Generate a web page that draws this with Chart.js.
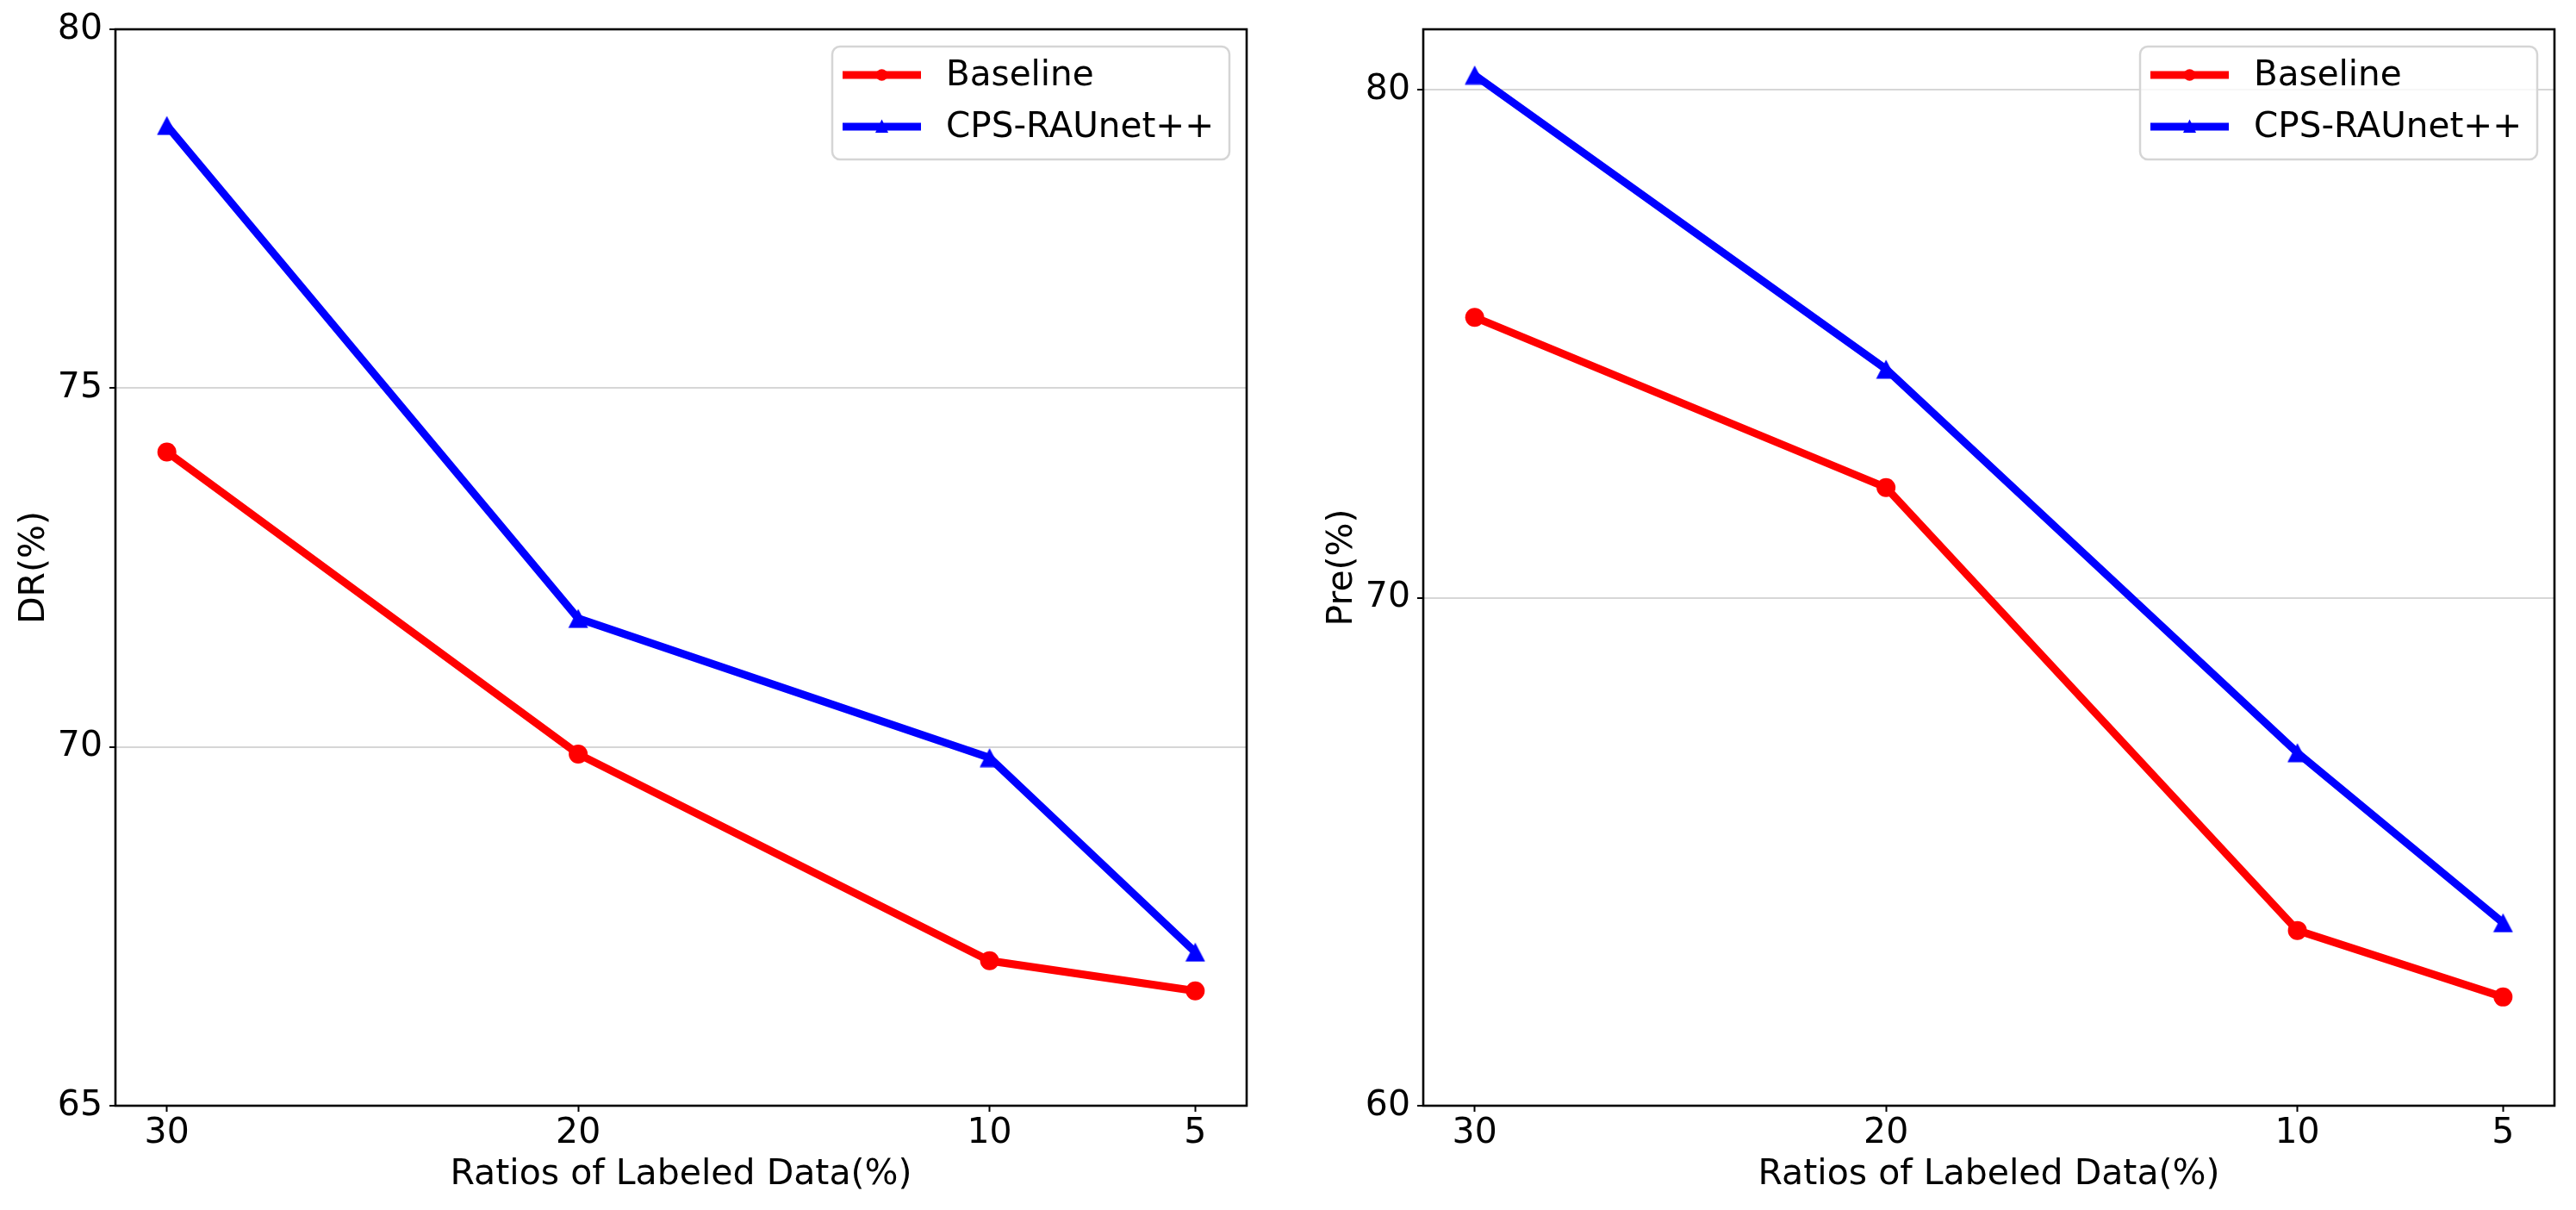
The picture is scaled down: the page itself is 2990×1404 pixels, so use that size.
<!DOCTYPE html>
<html>
<head>
<meta charset="utf-8">
<script src="https://cdn.jsdelivr.net/npm/chart.js@4.4.1/dist/chart.umd.min.js"></script>
<style>
  html, body { margin: 0; padding: 0; background: #fff; }
  body { width: 2990px; height: 1404px; position: relative; overflow: hidden; }
  .panel { position: absolute; top: 0; height: 1404px; }
  #p1 { left: 0; width: 1495px; }
  #p2 { left: 1518px; width: 1472px; }
</style>
</head>
<body>
<div class="panel" id="p1"><canvas id="c1"></canvas></div>
<div class="panel" id="p2"><canvas id="c2"></canvas></div>
<script>
// ---- data ----
const ratios = [30, 20, 10, 5];
const seriesNames = ['Baseline', 'CPS-RAUnet++'];
const drBaseline = [74.11, 69.90, 67.02, 66.60];
const drCps = [78.66, 71.79, 69.85, 67.14];
const preBaseline = [75.52, 72.17, 63.45, 62.14];
const preCps = [80.29, 74.50, 66.95, 63.60];
const drTicks = [65, 70, 75, 80];
const preTicks = [60, 70, 80];
const xTicks = [30, 20, 10, 5];
const xTitle = 'Ratios of Labeled Data(%)';

const FONT = "'DejaVu Sans', 'Liberation Sans', sans-serif";
const RED = '#ff0000', BLUE = '#0000ff';

function makeTriangle(w, h, color) {
  const c = document.createElement('canvas');
  c.width = w; c.height = h;
  const g = c.getContext('2d');
  g.fillStyle = color;
  g.beginPath();
  g.moveTo(w / 2, 0.5);
  g.lineTo(w - 0.5, h - 0.5);
  g.lineTo(0.5, h - 0.5);
  g.closePath();
  g.fill();
  return c;
}
const triImg = makeTriangle(24, 23, BLUE);

const framePlugin = {
  id: 'frame',
  afterDatasetsDraw(chart) {
    const a = chart.chartArea, ctx = chart.ctx;
    ctx.save();
    ctx.strokeStyle = '#000';
    ctx.lineWidth = 2.6;
    ctx.strokeRect(a.left, a.top, a.right - a.left, a.bottom - a.top);
    ctx.restore();
  }
};

const legendPlugin = {
  id: 'mplLegend',
  afterDraw(chart) {
    const a = chart.chartArea, ctx = chart.ctx;
    const bw = 461, bh = 131;
    const bx = a.right - 20 - bw, by = a.top + 20;
    ctx.save();
    ctx.beginPath();
    ctx.roundRect(bx, by, bw, bh, 9);
    ctx.fillStyle = 'rgba(255,255,255,0.8)';
    ctx.fill();
    ctx.lineWidth = 2.5;
    ctx.strokeStyle = '#d5d5d5';
    ctx.stroke();
    chart.data.datasets.forEach((ds, i) => {
      const y = by + 33 + 60 * i;
      const x0 = bx + 12, x1 = bx + 103, xm = (x0 + x1) / 2;
      ctx.strokeStyle = ds.borderColor;
      ctx.lineWidth = 9;
      ctx.lineCap = 'butt';
      ctx.beginPath(); ctx.moveTo(x0, y); ctx.lineTo(x1, y); ctx.stroke();
      ctx.fillStyle = ds.borderColor;
      ctx.beginPath();
      if (ds.legendMarker === 'circle') {
        ctx.arc(xm, y, 6.8, 0, Math.PI * 2);
      } else {
        ctx.moveTo(xm, y - 8.5); ctx.lineTo(xm + 7.5, y + 7); ctx.lineTo(xm - 7.5, y + 7); ctx.closePath();
      }
      ctx.fill();
      ctx.fillStyle = '#000';
      ctx.font = '40.5px ' + FONT;
      ctx.textBaseline = 'middle';
      ctx.textAlign = 'left';
      ctx.fillText(ds.label, bx + 132, y + 1);
    });
    ctx.restore();
  }
};

function toPoints(vals) { return ratios.map((r, i) => ({ x: r, y: vals[i] })); }

function makeChart(id, yTitle, baseVals, cpsVals, yMin, yMax, yTickVals, padRight) {
  return new Chart(document.getElementById(id), {
    type: 'line',
    data: {
      datasets: [
        { label: seriesNames[0], data: toPoints(baseVals), borderColor: RED, backgroundColor: RED,
          borderWidth: 9, pointStyle: 'circle', pointRadius: 11, pointBorderWidth: 0,
          pointBackgroundColor: RED, tension: 0, legendMarker: 'circle', clip: false },
        { label: seriesNames[1], data: toPoints(cpsVals), borderColor: BLUE, backgroundColor: BLUE,
          borderWidth: 9, pointStyle: triImg, pointRadius: 12, pointBorderWidth: 0,
          pointBackgroundColor: BLUE, tension: 0, legendMarker: 'triangle', clip: false }
      ]
    },
    options: {
      responsive: true,
      maintainAspectRatio: false,
      animation: false,
      events: [],
      layout: { padding: { left: 0, top: 34, right: padRight, bottom: 0 } },
      plugins: { legend: { display: false }, tooltip: { enabled: false } },
      scales: {
        x: {
          type: 'linear', reverse: true, min: 3.75, max: 31.25,
          afterBuildTicks: (s) => { s.ticks = xTicks.map(v => ({ value: v })); },
          afterFit: (s) => { s.height = 121; },
          grid: { display: true, drawOnChartArea: false, drawTicks: true, tickLength: 7,
                  tickColor: '#000', tickWidth: 2 },
          border: { display: false },
          ticks: { color: '#000', font: { family: FONT, size: 41 }, padding: 1, maxRotation: 0,
                   callback: (v) => String(v) },
          title: { display: true, text: xTitle, color: '#000', font: { family: FONT, size: 41 },
                   padding: { top: 0, bottom: 16 } }
        },
        y: {
          type: 'linear', min: yMin, max: yMax,
          afterBuildTicks: (s) => { s.ticks = yTickVals.map(v => ({ value: v })); },
          afterFit: (s) => { s.width = 134; },
          grid: { display: true, color: '#d6d6d6', lineWidth: 2, drawTicks: true, tickLength: 7,
                  tickColor: '#000', tickWidth: 2 },
          border: { display: false },
          ticks: { color: '#000', font: { family: FONT, size: 41 }, padding: 8,
                   callback: (v) => String(v) },
          title: { display: true, text: yTitle, color: '#000', font: { family: FONT, size: 41 },
                   padding: { top: 16, bottom: 0 } }
        }
      }
    },
    plugins: [framePlugin, legendPlugin]
  });
}

makeChart('c1', 'DR(%)', drBaseline, drCps, 65, 80, drTicks, 48);
makeChart('c2', 'Pre(%)', preBaseline, preCps, 60, 81.19, preTicks, 25);
</script>
</body>
</html>
